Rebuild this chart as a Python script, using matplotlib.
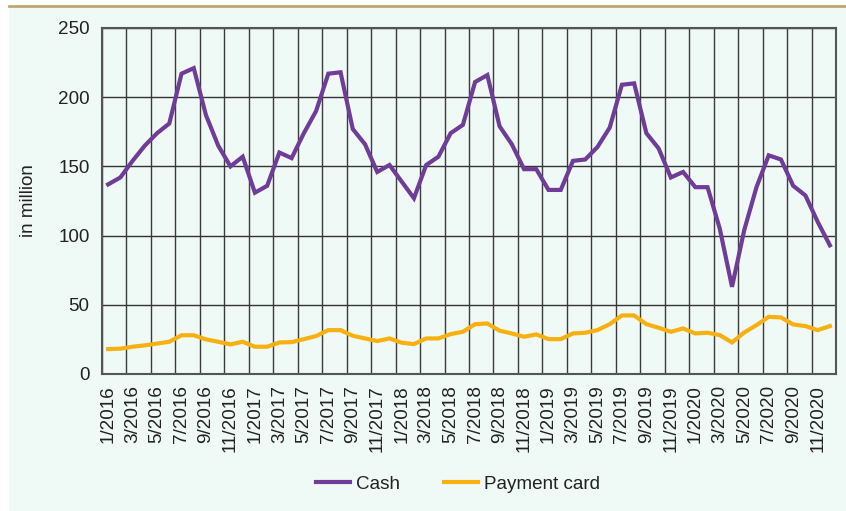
import numpy as np
import matplotlib.pyplot as plt
from matplotlib.lines import Line2D
from matplotlib.patches import Rectangle

plt.rcParams['font.family'] = ['Liberation Sans', 'DejaVu Sans']

# monthly number of transactions, 1/2016 - 12/2020
months = [f"{m}/{y}" for y in range(2016, 2021) for m in range(1, 13)]

cash = [137, 142, 154, 165, 174, 181, 217, 221, 187, 165, 150, 157,
        131, 136, 160, 156, 174, 190, 217, 218, 177, 166, 146, 151,
        139, 127, 151, 157, 174, 180, 211, 216, 179, 166, 148, 148,
        133, 133, 154, 155, 164, 178, 209, 210, 174, 163, 142, 146,
        135, 135, 105, 63, 104, 135, 158, 155, 136, 129, 110, 93]

card = [18, 18.3, 19.7, 20.7, 22, 23.3, 28, 28, 25, 23.3, 21.4, 23.3,
        19.7, 19.7, 22.8, 23, 25.2, 27.4, 31.7, 31.7, 27.6, 25.7, 23.8, 25.7,
        22.6, 21.6, 25.7, 25.7, 28.8, 30.5, 36, 36.5, 31.3, 29.3, 26.9, 28.6,
        25.2, 25.2, 29.3, 29.8, 31.7, 36, 42.3, 42.3, 36, 33.4, 30.5, 32.9,
        29.3, 29.8, 28.1, 22.8, 30, 35.3, 41.3, 40.9, 35.8, 34.6, 31.7, 34.6]

bg = "#eff9f6"
purple = "#6f3c97"
orange = "#f6b111"
text_col = "#222222"
fs = 13.6

W, H = 846, 511
fig = plt.figure(figsize=(W / 100, H / 100), dpi=100, facecolor="white")

# mint panel with the tan rule on top
fig.add_artist(Rectangle((9 / W, 0), 1 - 9 / W, 1 - 7 / H, transform=fig.transFigure,
                         facecolor=bg, edgecolor="none", zorder=-10))
fig.add_artist(Line2D([9 / W, 1], [1 - 6.5 / H, 1 - 6.5 / H], transform=fig.transFigure,
                      color="#c3a574", lw=2))

ax = fig.add_axes([102 / W, 1 - 374 / H, 734 / W, 346 / H])
ax.set_facecolor(bg)

x = np.arange(len(months))
ax.plot(x, cash, color=purple, lw=3, label="Cash", solid_joinstyle="miter")
ax.plot(x, card, color=orange, lw=3, label="Payment card", solid_joinstyle="miter")

ax.set_xlim(-0.5, len(months) - 0.5)
ax.set_ylim(0, 250)
ax.set_yticks(np.arange(0, 251, 50))
ax.set_xticks(x[::2])
ax.set_xticklabels(months[::2], rotation=90)
ax.set_xticks(np.arange(-0.5, len(months), 2), minor=True)
ax.tick_params(axis="both", which="both", length=0, labelsize=fs, colors=text_col)
ax.tick_params(axis="y", pad=9)
ax.tick_params(axis="x", pad=8)

ax.grid(axis="y", which="major", color="#333333", lw=1)
ax.grid(axis="x", which="minor", color="#3c3c3c", lw=1)
ax.set_axisbelow(True)
for s in ax.spines.values():
    s.set_color("#555555")
    s.set_linewidth(1.5)

ax.set_ylabel("in million", fontsize=fs, color=text_col)
ax.yaxis.set_label_coords(-(102 - 37) / 734, 0.5)

fig.legend(loc="center", bbox_to_anchor=(458 / W, 1 - 484 / H), ncol=2,
           frameon=False, fontsize=fs, handlelength=1.8, columnspacing=2.3,
           handletextpad=0.35, labelcolor=text_col)

fig.savefig("out.png", dpi=100, facecolor="white")
